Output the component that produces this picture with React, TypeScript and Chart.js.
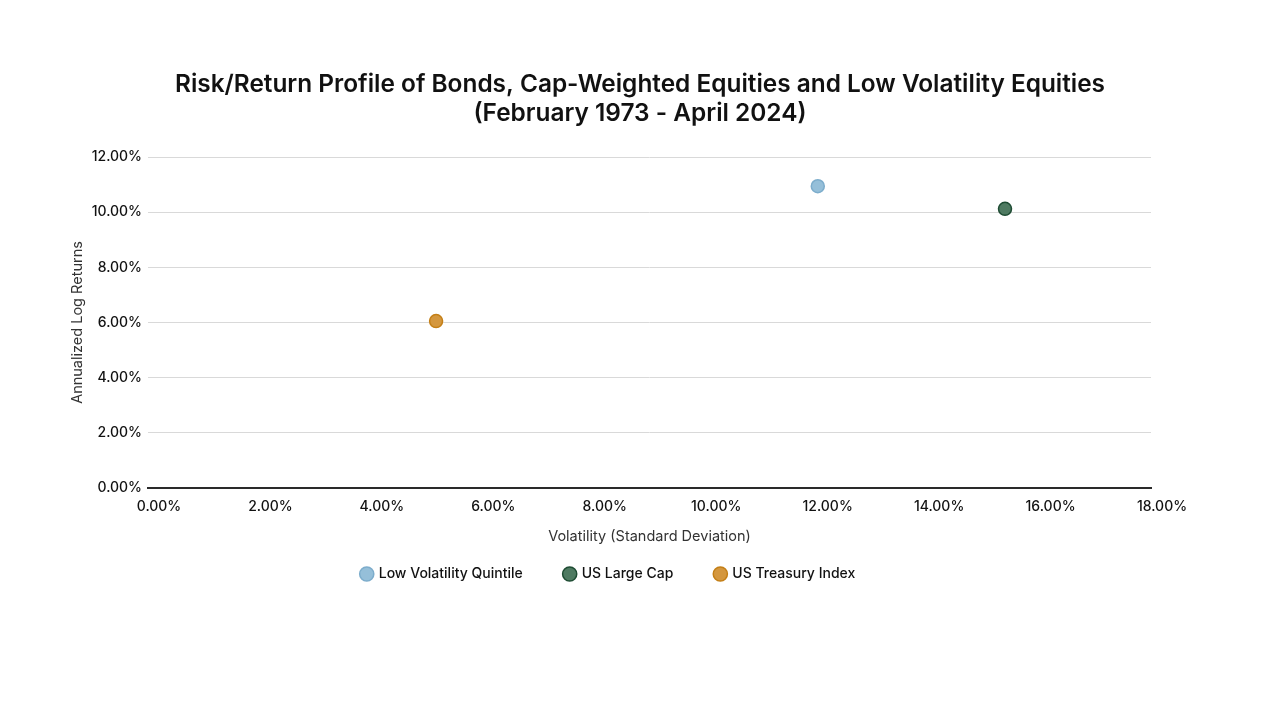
import React, { useEffect, useRef } from "react";
import { Chart, registerables } from "chart.js";

Chart.register(...registerables);

const seriesNames = ["Low Volatility Quintile", "US Large Cap", "US Treasury Index"];
const volatility = [12.02, 15.38, 5.17];
const logReturns = [10.94, 10.12, 6.05];
const fillColors = ["#95BFD9", "#4E7A61", "#D4973E"];
const borderColors = ["#7DADCC", "#1E4C33", "#C47F16"];

const titleLines = [
  "Risk/Return Profile of Bonds, Cap-Weighted Equities and Low Volatility Equities",
  "(February 1973 - April 2024)",
];
const xAxisTitle = "Volatility (Standard Deviation)";
const yAxisTitle = "Annualized Log Returns";
const xMin = 0, xMax = 18, xStep = 2;
const yMin = 0, yMax = 12, yStep = 2;

const FONT = "Inter, 'Noto Sans', sans-serif";

const centeredTitle = {
  id: "centeredTitle",
  afterDraw(chart: any) {
    const ctx = chart.ctx;
    ctx.save();
    ctx.font = `600 24.4px ${FONT}`;
    ctx.fillStyle = "#111111";
    ctx.textAlign = "center";
    ctx.textBaseline = "middle";
    const cx = chart.width / 2;
    titleLines.forEach((line, i) => ctx.fillText(line, cx, 85 + i * 29));
    ctx.restore();
  },
};

export default function App() {
  const ref = useRef<HTMLCanvasElement | null>(null);

  useEffect(() => {
    document.body.style.margin = "0";
    document.body.style.background = "#ffffff";
    const canvas = ref.current;
    if (!canvas) return;
    Chart.defaults.font.family = FONT;

    const chart = new Chart(canvas, {
      type: "scatter",
      data: {
        datasets: seriesNames.map((name, i) => ({
          label: name,
          data: [{ x: volatility[i], y: logReturns[i] }],
          backgroundColor: fillColors[i],
          borderColor: borderColors[i],
          borderWidth: 1.5,
          pointRadius: 6.5,
          pointHoverRadius: 6.5,
        })),
      },
      options: {
        responsive: false,
        animation: false,
        devicePixelRatio: 1,
        layout: { padding: { left: 66, right: 129, top: 157, bottom: 128 } },
        plugins: {
          tooltip: { enabled: false },
          title: { display: false },
          legend: {
            position: "bottom",
            labels: {
              usePointStyle: true,
              pointStyle: "circle",
              boxWidth: 10,
              boxHeight: 10,
              padding: 42,
              color: "#111111",
              font: { family: FONT, size: 14, weight: "500" },
            },
          },
        },
        scales: {
          x: {
            type: "linear",
            min: xMin,
            max: xMax,
            afterFit: (s: any) => { s.height = 37; },
            grid: { display: false, drawTicks: false },
            border: { display: true, color: "#2a2a2a", width: 2 },
            ticks: {
              stepSize: xStep,
              padding: 10,
              labelOffset: 11,
              color: "#111111",
              font: { family: FONT, size: 14, weight: "500" },
              callback: (v: any) => Number(v).toFixed(2) + "%",
            },
            title: {
              display: true,
              text: xAxisTitle,
              color: "#333333",
              font: { family: FONT, size: 14.5 },
              padding: { top: 0, bottom: -20.3 },
            },
          },
          y: {
            type: "linear",
            min: yMin,
            max: yMax,
            afterFit: (s: any) => { s.width = 82; },
            grid: { color: "#d9d9d9", lineWidth: 1, drawTicks: false },
            border: { display: false },
            ticks: {
              stepSize: yStep,
              padding: 6,
              color: "#111111",
              font: { family: FONT, size: 14, weight: "500" },
              callback: (v: any) => Number(v).toFixed(2) + "%",
            },
            title: {
              display: true,
              text: yAxisTitle,
              color: "#333333",
              font: { family: FONT, size: 14.5 },
              padding: { top: 3, bottom: 4 },
            },
          },
        },
      },
      plugins: [centeredTitle],
    });
    return () => chart.destroy();
  }, []);

  return (
    <div style={{ position: "absolute", left: 0, top: 0, width: 1280, height: 719, background: "#fff" }}>
      <canvas ref={ref} width={1280} height={719} />
    </div>
  );
}
